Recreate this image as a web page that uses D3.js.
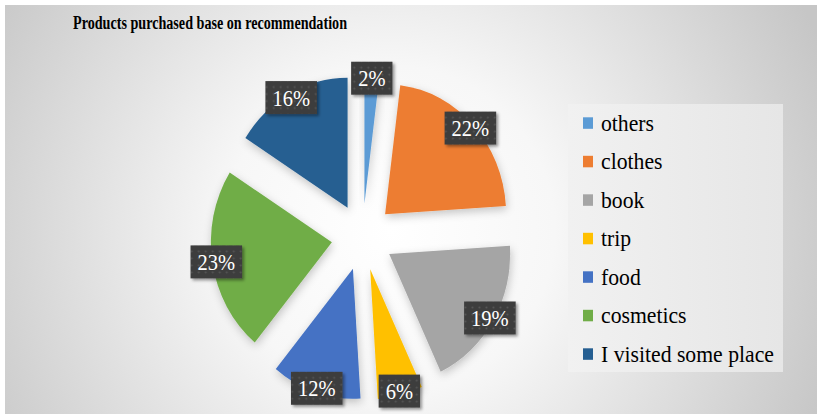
<!DOCTYPE html>
<html>
<head>
<meta charset="utf-8">
<script src="https://cdn.jsdelivr.net/npm/d3@7"></script>
<style>
  html, body { margin: 0; padding: 0; background: #ffffff; }
  svg { display: block; }
  svg text { font-family: "Liberation Serif", "Tinos", "Times New Roman", Times, "DejaVu Serif", serif; }
</style>
</head>
<body>
<svg id="chart" width="817" height="414"></svg>
<script>
// ---- data ----
const categories = ["others", "clothes", "book", "trip", "food", "cosmetics", "I visited some place"];
const values = [2, 22, 19, 6, 12, 23, 16];
const colors = ["#5B9BD5", "#ED7D31", "#A5A5A5", "#FFC000", "#4472C4", "#70AD47", "#255E91"];
const title = "Products purchased base on recommendation";

// ---- layout ----
const W = 817, H = 414;
const cx = 362.5, cy = 237;
const R = 121, explode = 31, yStretch = 1.075;
const labelR = 148;

const svg = d3.select("#chart");
const defs = svg.append("defs");

const bg = defs.append("radialGradient").attr("id", "bgGrad")
  .attr("gradientUnits", "userSpaceOnUse")
  .attr("cx", 390).attr("cy", 230).attr("r", 470);
bg.append("stop").attr("offset", "0").attr("stop-color", "#ffffff");
bg.append("stop").attr("offset", "0.35").attr("stop-color", "#f7f7f7");
bg.append("stop").attr("offset", "1").attr("stop-color", "#c6c6c6");

const lg = defs.append("linearGradient").attr("id", "legGrad")
  .attr("x1", "0").attr("y1", "0").attr("x2", "1").attr("y2", "0");
lg.append("stop").attr("offset", "0").attr("stop-color", "#f1f1f1");
lg.append("stop").attr("offset", "1").attr("stop-color", "#e6e6e6");

const sh = defs.append("filter").attr("id", "sliceShadow")
  .attr("x", "-30%").attr("y", "-30%").attr("width", "160%").attr("height", "160%");
sh.append("feDropShadow").attr("dx", 1).attr("dy", 3).attr("stdDeviation", 4)
  .attr("flood-color", "#000").attr("flood-opacity", 0.22);

const lsh = defs.append("filter").attr("id", "labShadow")
  .attr("x", "-30%").attr("y", "-30%").attr("width", "160%").attr("height", "160%");
lsh.append("feDropShadow").attr("dx", 2).attr("dy", 2).attr("stdDeviation", 1.5)
  .attr("flood-color", "#000").attr("flood-opacity", 0.4);

const pat = defs.append("pattern").attr("id", "dots")
  .attr("patternUnits", "userSpaceOnUse").attr("width", 7).attr("height", 7);
pat.append("rect").attr("width", 7).attr("height", 7).attr("fill", "#3d3d3d");
pat.append("circle").attr("cx", 3.5).attr("cy", 3.5).attr("r", 1).attr("fill", "#575757");

// background
svg.append("rect").attr("x", 5).attr("y", 5).attr("width", W - 5).attr("height", H - 5)
  .attr("fill", "url(#bgGrad)");

// title
svg.append("text")
  .attr("transform", "translate(73,29) scale(1,1.06)")
  .style("font-weight", "bold").style("font-size", "18.5px")
  .attr("textLength", 274).attr("lengthAdjust", "spacingAndGlyphs")
  .attr("fill", "#000").text(title);

// pie
const pie = d3.pie().sort(null).value(d => d);
const arcs = pie(values);
const arc = d3.arc().innerRadius(0).outerRadius(R);
const labelArc = d3.arc().innerRadius(labelR).outerRadius(labelR);

const g = svg.append("g").attr("transform", `translate(${cx},${cy}) scale(1,${yStretch})`);
g.selectAll("path").data(arcs).join("path")
  .attr("d", arc)
  .attr("fill", (d, i) => colors[i])
  .attr("filter", "url(#sliceShadow)")
  .attr("transform", d => {
    const a = (d.startAngle + d.endAngle) / 2;
    return `translate(${explode * Math.sin(a)},${-explode * Math.cos(a)})`;
  });

// data labels
const labG = svg.append("g");
arcs.forEach((d, i) => {
  const c = labelArc.centroid(d);
  const x = cx + c[0], y = cy + c[1] * yStretch;
  const gg = labG.append("g").attr("transform", `translate(${x},${y})`);
  const rect = gg.append("rect").attr("fill", "url(#dots)").attr("filter", "url(#labShadow)");
  const t = gg.append("text")
    .attr("transform", "translate(0,8) scale(1,1.08)")
    .attr("text-anchor", "middle")
    .style("font-size", "20.5px")
    .attr("fill", "#ffffff").text(values[i] + "%");
  const w = t.node().getComputedTextLength() + 14;
  const h = 33;
  rect.attr("x", -w / 2).attr("y", -h / 2).attr("width", w).attr("height", h);
});

// legend
const leg = svg.append("g");
leg.append("rect").attr("x", 568).attr("y", 104).attr("width", 215).attr("height", 268)
  .attr("fill", "url(#legGrad)");
categories.forEach((c, i) => {
  const base = 130.7 + 38.5 * i;
  leg.append("rect").attr("x", 583).attr("y", base - 13.4).attr("width", 10).attr("height", 11.5)
    .attr("fill", colors[i]);
  leg.append("text")
    .attr("transform", `translate(601,${base}) scale(1,1.08)`)
    .style("font-size", "21.7px")
    .attr("fill", "#000").text(c);
});
</script>
</body>
</html>
